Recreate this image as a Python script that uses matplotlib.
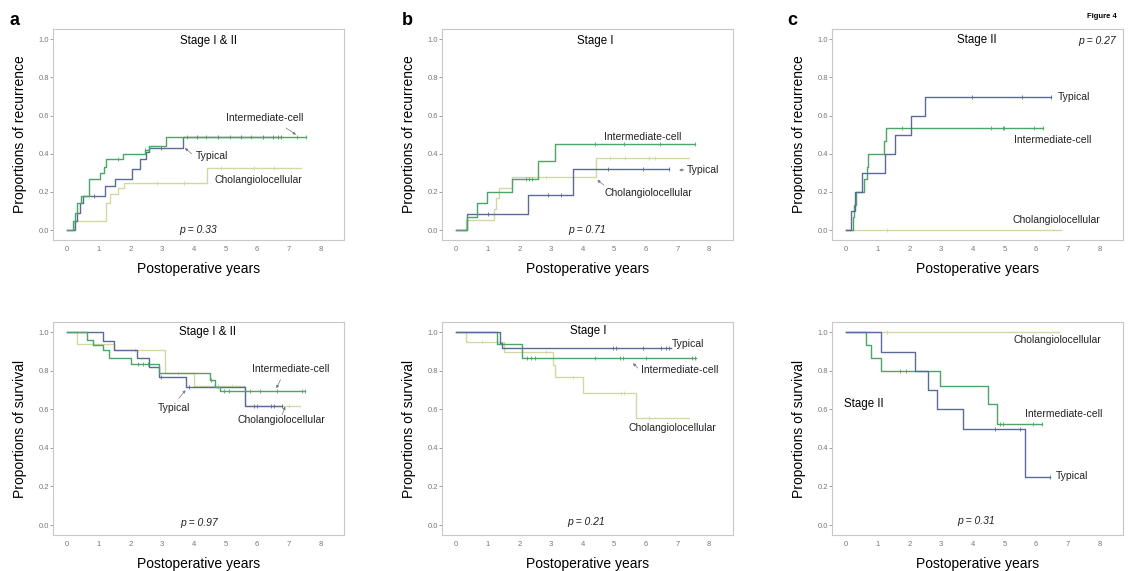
import matplotlib.pyplot as plt
import numpy as np

plt.rcParams['font.family'] = ['Liberation Sans', 'DejaVu Sans']

TYP = '#5a6b98'
INT = '#4ca564'
CHO = '#d2d8a4'

# a, recurrence, stage I & II
a_rec_typ_t = [0, 0.25, 0.3, 0.4, 0.5, 1.2, 1.5, 2.05, 2.3, 2.5, 2.6, 3.65]
a_rec_typ_v = [0, 0.05, 0.09, 0.14, 0.18, 0.23, 0.27, 0.32, 0.37, 0.41, 0.43, 0.49]
a_rec_typ_end = 6.77
a_rec_typ_cens = [0.85, 2.95, 4.1, 4.75, 5.5, 6.2, 6.5, 6.77]
a_rec_int_t = [0, 0.19, 0.25, 0.3, 0.45, 0.68, 1.05, 1.15, 1.22, 1.75, 2.45, 2.6, 3.12]
a_rec_int_v = [0, 0.05, 0.09, 0.14, 0.18, 0.27, 0.30, 0.33, 0.37, 0.40, 0.42, 0.44, 0.49]
a_rec_int_end = 7.55
a_rec_int_cens = [1.6, 2.45, 3.8, 4.4, 5.15, 5.8, 6.65, 7.25, 7.55]
a_rec_cho_t = [0, 0.2, 1.22, 1.35, 1.6, 1.78, 4.42]
a_rec_cho_v = [0, 0.045, 0.14, 0.19, 0.22, 0.245, 0.325]
a_rec_cho_end = 7.4
a_rec_cho_cens = [2.85, 3.7, 4.85, 5.9, 6.55]

# b, recurrence, stage I
b_rec_typ_t = [0, 0.33, 2.26, 3.7]
b_rec_typ_v = [0, 0.085, 0.185, 0.32]
b_rec_typ_end = 6.74
b_rec_typ_cens = [1.0, 2.9, 3.3, 4.8, 5.9, 6.74]
b_rec_int_t = [0, 0.35, 0.65, 0.97, 1.75, 2.6, 3.12]
b_rec_int_v = [0, 0.07, 0.14, 0.2, 0.27, 0.36, 0.45]
b_rec_int_end = 7.56
b_rec_int_cens = [2.2, 2.3, 2.4, 4.4, 5.3, 6.45, 7.56]
b_rec_cho_t = [0, 0.3, 1.2, 1.27, 1.35, 1.75, 4.43]
b_rec_cho_v = [0, 0.055, 0.11, 0.17, 0.22, 0.28, 0.38]
b_rec_cho_end = 7.35
b_rec_cho_cens = [2.85, 4.85, 5.35, 6.1, 6.3]

# c, recurrence, stage II
c_rec_typ_t = [0, 0.15, 0.28, 0.5, 1.23, 1.54, 2.05, 2.49]
c_rec_typ_v = [0, 0.1, 0.2, 0.3, 0.4, 0.5, 0.6, 0.7]
c_rec_typ_end = 6.48
c_rec_typ_cens = [3.98, 5.55, 6.48]
c_rec_int_t = [0, 0.2, 0.25, 0.3, 0.55, 0.65, 0.7, 1.2, 1.25]
c_rec_int_v = [0, 0.067, 0.133, 0.2, 0.267, 0.333, 0.4, 0.467, 0.533]
c_rec_int_end = 6.22
c_rec_int_cens = [1.75, 4.57, 4.96, 5.0, 5.93, 6.22]
c_rec_cho_t = [0]
c_rec_cho_v = [0]
c_rec_cho_end = 6.79
c_rec_cho_cens = [1.3]

# a, survival, stage I & II
a_sur_typ_t = [0, 1.12, 1.47, 2.21, 2.58, 2.89, 3.74, 5.63]
a_sur_typ_v = [1, 0.955, 0.91, 0.865, 0.82, 0.77, 0.715, 0.62]
a_sur_typ_end = 6.8
a_sur_typ_cens = [2.95, 3.84, 5.89, 5.99, 6.44, 6.53, 6.8]
a_sur_int_t = [0, 0.62, 0.82, 1.12, 1.31, 2.02, 2.89, 4.5, 4.68, 4.82]
a_sur_int_v = [1, 0.96, 0.935, 0.91, 0.865, 0.835, 0.79, 0.755, 0.715, 0.695]
a_sur_int_end = 7.52
a_sur_int_cens = [2.23, 2.4, 2.55, 4.55, 4.94, 5.1, 5.77, 6.1, 6.63, 7.42, 7.52]
a_sur_cho_t = [0, 0.32, 1.47, 3.1, 4.0, 5.63]
a_sur_cho_v = [1, 0.94, 0.91, 0.79, 0.72, 0.62]
a_sur_cho_end = 7.35
a_sur_cho_cens = [2.15, 3.5, 4.75, 5.2, 7.0]

# b, survival, stage I
b_sur_typ_t = [0, 1.39, 1.44]
b_sur_typ_v = [1, 0.945, 0.92]
b_sur_typ_end = 6.79
b_sur_typ_cens = [4.96, 5.06, 5.9, 6.48, 6.64, 6.74]
b_sur_int_t = [0, 1.28, 2.07]
b_sur_int_v = [1, 0.94, 0.867]
b_sur_int_end = 7.58
b_sur_int_cens = [2.23, 2.38, 2.49, 4.38, 5.17, 5.27, 6.0, 7.45, 7.55]
b_sur_cho_t = [0, 0.3, 1.5, 3.07, 3.13, 4.01, 5.69]
b_sur_cho_v = [1, 0.95, 0.896, 0.83, 0.768, 0.688, 0.555]
b_sur_cho_end = 7.37
b_sur_cho_cens = [0.81, 2.85, 3.7, 5.2, 5.3, 6.1]

# c, survival, stage II
c_sur_typ_t = [0, 1.1, 2.18, 2.6, 2.88, 3.7, 5.64]
c_sur_typ_v = [1, 0.9, 0.8, 0.7, 0.6, 0.5, 0.25]
c_sur_typ_end = 6.43
c_sur_typ_cens = [4.7, 5.5, 6.43]
c_sur_int_t = [0, 0.61, 0.77, 1.1, 2.95, 4.49, 4.77]
c_sur_int_v = [1, 0.933, 0.867, 0.8, 0.72, 0.63, 0.527]
c_sur_int_end = 6.2
c_sur_int_cens = [1.7, 1.9, 4.85, 4.95, 5.9, 6.2]
c_sur_cho_t = [0]
c_sur_cho_v = [1.0]
c_sur_cho_end = 6.74
c_sur_cho_cens = [1.3]


def km(ax, t, v, end, cens, color):
    x = list(t) + [end]
    y = list(v) + [v[-1]]
    ax.step(x, y, where='post', color=color, lw=1.0)
    idx = np.searchsorted(t, cens, side='right') - 1
    ax.plot(cens, np.array(v)[idx], ls='none', marker='|', ms=3.5, mew=0.6,
            color=color)


def style(ax, ylabel):
    ax.set_xlim(-0.45, 8.75)
    ax.set_ylim(-0.052, 1.054)
    ax.set_xticks(range(9))
    ax.set_yticks(np.arange(0, 1.01, 0.2))
    ax.yaxis.set_major_formatter('{x:.1f}')
    ax.tick_params(labelsize=5.5, colors='#777777', length=2, width=0.5, pad=1)
    ax.tick_params(axis='x', pad=4, length=0)
    for s in ax.spines.values():
        s.set_color('#c8c8c8')
        s.set_linewidth(0.8)
    ax.set_xlabel('Postoperative years', fontsize=10)
    ax.set_ylabel(ylabel, fontsize=10)
    ax.yaxis.set_label_coords(-0.089, 0.5)
    ax.xaxis.set_label_coords(0.5, -0.105)


def lab(ax, x, y, s, ha='left', **kw):
    ax.text(x, y, s, ha=ha, va='center', fontsize=7.5, color='#222222', **kw)


def arrow(ax, x0, y0, x1, y1):
    ax.annotate('', xy=(x1, y1), xytext=(x0, y0),
                arrowprops=dict(arrowstyle='-|>', color='#777777', lw=0.5,
                                mutation_scale=4, shrinkA=0, shrinkB=0))


fig = plt.figure(figsize=(11.28, 5.71), dpi=100)
lefts = [0.047, 0.3918, 0.7376]
w = 0.258
top = [fig.add_axes([l, 0.5797, w, 0.3695]) for l in lefts]
bot = [fig.add_axes([l, 0.063, w, 0.373]) for l in lefts]

# ---- recurrence row
ax = top[0]
km(ax, a_rec_cho_t, a_rec_cho_v, a_rec_cho_end, a_rec_cho_cens, CHO)
km(ax, a_rec_typ_t, a_rec_typ_v, a_rec_typ_end, a_rec_typ_cens, TYP)
km(ax, a_rec_int_t, a_rec_int_v, a_rec_int_end, a_rec_int_cens, INT)
style(ax, 'Proportions of recurrence')
ax.text(4.45, 0.99, 'Stage I & II', ha='center', va='center', fontsize=8.3)
lab(ax, 5.03, 0.59, 'Intermediate-cell')
arrow(ax, 6.92, 0.535, 7.23, 0.50)
lab(ax, 4.07, 0.39, 'Typical')
arrow(ax, 3.93, 0.40, 3.72, 0.43)
lab(ax, 4.66, 0.26, 'Cholangiolocellular')
lab(ax, 4.14, 0.0, 'p = 0.33', ha='center', style='italic')

ax = top[1]
km(ax, b_rec_cho_t, b_rec_cho_v, b_rec_cho_end, b_rec_cho_cens, CHO)
km(ax, b_rec_typ_t, b_rec_typ_v, b_rec_typ_end, b_rec_typ_cens, TYP)
km(ax, b_rec_int_t, b_rec_int_v, b_rec_int_end, b_rec_int_cens, INT)
style(ax, 'Proportions of recurrence')
ax.text(4.41, 0.99, 'Stage I', ha='center', va='center', fontsize=8.3)
lab(ax, 4.67, 0.49, 'Intermediate-cell')
lab(ax, 7.3, 0.315, 'Typical')
arrow(ax, 7.2, 0.315, 7.05, 0.315)
lab(ax, 4.7, 0.196, 'Cholangiolocellular')
arrow(ax, 4.67, 0.236, 4.46, 0.262)
lab(ax, 4.15, 0.0, 'p = 0.71', ha='center', style='italic')

ax = top[2]
km(ax, c_rec_cho_t, c_rec_cho_v, c_rec_cho_end, c_rec_cho_cens, CHO)
km(ax, c_rec_int_t, c_rec_int_v, c_rec_int_end, c_rec_int_cens, INT)
km(ax, c_rec_typ_t, c_rec_typ_v, c_rec_typ_end, c_rec_typ_cens, TYP)
style(ax, 'Proportions of recurrence')
ax.text(4.12, 0.997, 'Stage II', ha='center', va='center', fontsize=8.3)
lab(ax, 6.69, 0.70, 'Typical')
lab(ax, 5.29, 0.47, 'Intermediate-cell')
lab(ax, 5.25, 0.052, 'Cholangiolocellular')
lab(ax, 8.53, 0.99, 'p = 0.27', ha='right', style='italic')

# ---- survival row
ax = bot[0]
km(ax, a_sur_cho_t, a_sur_cho_v, a_sur_cho_end, a_sur_cho_cens, CHO)
km(ax, a_sur_typ_t, a_sur_typ_v, a_sur_typ_end, a_sur_typ_cens, TYP)
km(ax, a_sur_int_t, a_sur_int_v, a_sur_int_end, a_sur_int_cens, INT)
style(ax, 'Proportions of survival')
ax.text(4.42, 1.0, 'Stage I & II', ha='center', va='center', fontsize=8.3)
lab(ax, 5.84, 0.81, 'Intermediate-cell')
arrow(ax, 6.74, 0.754, 6.61, 0.71)
lab(ax, 2.87, 0.61, 'Typical')
arrow(ax, 3.53, 0.658, 3.74, 0.70)
lab(ax, 5.37, 0.546, 'Cholangiolocellular')
arrow(ax, 6.79, 0.572, 6.89, 0.615)
lab(ax, 4.16, 0.012, 'p = 0.97', ha='center', style='italic')

ax = bot[1]
km(ax, b_sur_cho_t, b_sur_cho_v, b_sur_cho_end, b_sur_cho_cens, CHO)
km(ax, b_sur_int_t, b_sur_int_v, b_sur_int_end, b_sur_int_cens, INT)
km(ax, b_sur_typ_t, b_sur_typ_v, b_sur_typ_end, b_sur_typ_cens, TYP)
style(ax, 'Proportions of survival')
ax.text(4.17, 1.005, 'Stage I', ha='center', va='center', fontsize=8.3)
lab(ax, 6.82, 0.94, 'Typical')
lab(ax, 5.85, 0.806, 'Intermediate-cell')
arrow(ax, 5.74, 0.815, 5.59, 0.84)
lab(ax, 5.46, 0.506, 'Cholangiolocellular')
lab(ax, 4.12, 0.017, 'p = 0.21', ha='center', style='italic')

ax = bot[2]
km(ax, c_sur_cho_t, c_sur_cho_v, c_sur_cho_end, c_sur_cho_cens, CHO)
km(ax, c_sur_int_t, c_sur_int_v, c_sur_int_end, c_sur_int_cens, INT)
km(ax, c_sur_typ_t, c_sur_typ_v, c_sur_typ_end, c_sur_typ_cens, TYP)
style(ax, 'Proportions of survival')
lab(ax, 5.29, 0.96, 'Cholangiolocellular')
lab(ax, 5.64, 0.579, 'Intermediate-cell')
lab(ax, 6.61, 0.257, 'Typical')
ax.text(-0.07, 0.63, 'Stage II', ha='left', va='center', fontsize=8.3)
lab(ax, 4.12, 0.019, 'p = 0.31', ha='center', style='italic')

# panel letters
for x, s in zip([10 / 1128, 402 / 1128, 787 / 1128], ['a', 'b', 'c']):
    fig.text(x, 1 - 25 / 571, s, fontsize=13, fontweight='bold', va='baseline')
fig.text(1117 / 1128, 1 - 17 / 571, 'Figure 4', fontsize=5.5,
         fontweight='bold', ha='right', va='center')

fig.savefig('out.png', dpi=100)
